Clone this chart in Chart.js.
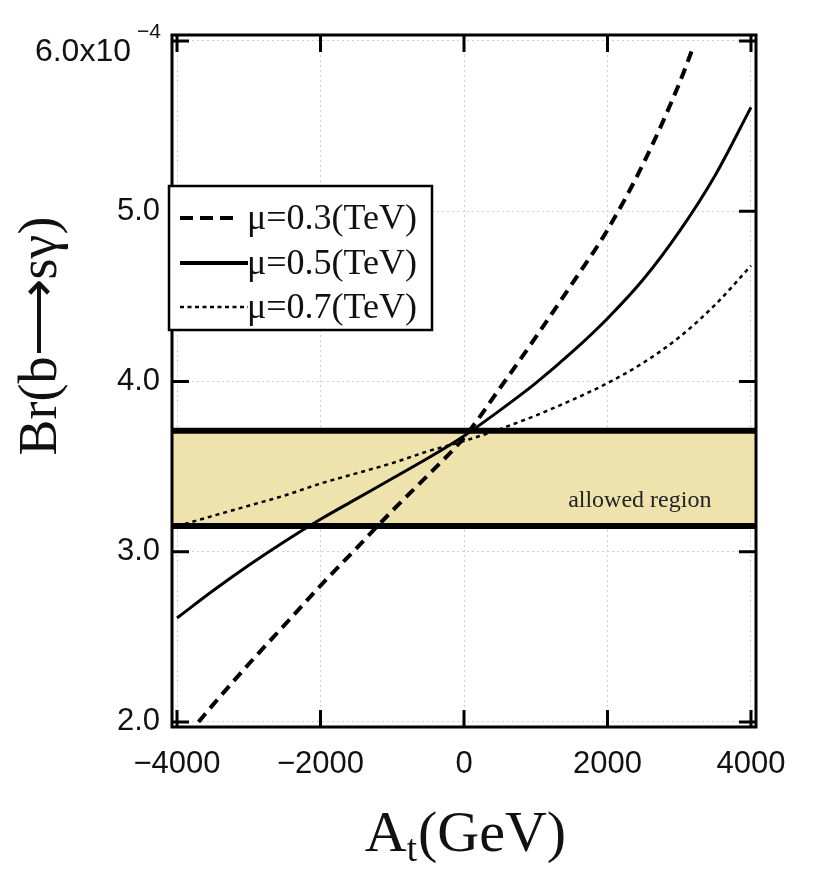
<!DOCTYPE html>
<html>
<head>
<meta charset="utf-8">
<script src="https://cdn.jsdelivr.net/npm/chart.js@4.4.1/dist/chart.umd.min.js"></script>
<style>
  html, body { margin: 0; padding: 0; background: #fff; }
  #wrap { width: 830px; height: 889px; }
</style>
</head>
<body>
<div id="wrap"><canvas id="brChart" width="830" height="889"></canvas></div>
<script>
// --- Data (Br in units of 1e-4) ---
const atValues = [-4000, -3500, -3000, -2500, -2000, -1500, -1000, -500, 0, 500, 1000, 1500, 2000, 2500, 3000, 3500, 4000];
const br05 = [2.61, 2.77, 2.92, 3.06, 3.19, 3.31, 3.43, 3.55, 3.68, 3.83, 3.99, 4.17, 4.37, 4.60, 4.88, 5.21, 5.61];
const br07 = [3.15, 3.21, 3.27, 3.33, 3.40, 3.46, 3.52, 3.59, 3.65, 3.72, 3.80, 3.89, 3.99, 4.11, 4.26, 4.45, 4.68];
const at03 = [-3700, -3500, -3000, -2500, -2000, -1500, -1000, -500, 0, 500, 1000, 1500, 2000, 2500, 3000, 3200];
const br03 = [2.00, 2.10, 2.34, 2.57, 2.80, 3.02, 3.24, 3.45, 3.67, 3.96, 4.26, 4.57, 4.89, 5.28, 5.75, 5.97];

const allowedLow = 3.15;
const allowedHigh = 3.71;

const xTicks = [-4000, -2000, 0, 2000, 4000];
const yTicks = [2.0, 3.0, 4.0, 5.0, 6.0];
const xRange = [-4070, 4070];
const yRange = [1.97, 6.035];

const seriesLabels = ['\u03bc=0.3(TeV)', '\u03bc=0.5(TeV)', '\u03bc=0.7(TeV)'];

const toXY = (xs, ys) => xs.map((x, i) => ({ x: x, y: ys[i] }));

// --- Frame, inward ticks, legend and titles ---
const decorPlugin = {
    id: 'decor',
    afterDatasetsDraw(chart) {
        const ctx = chart.ctx;
        const area = chart.chartArea;
        const xs = chart.scales.x;
        const ys = chart.scales.y;
        ctx.save();

        // frame
        ctx.strokeStyle = '#000';
        ctx.lineWidth = 3;
        ctx.strokeRect(area.left, area.top, area.right - area.left, area.bottom - area.top);

        // inward tick marks on all four sides
        const tl = 17;
        ctx.lineWidth = 3;
        ctx.beginPath();
        xTicks.forEach(v => {
            const px = xs.getPixelForValue(v);
            ctx.moveTo(px, area.bottom); ctx.lineTo(px, area.bottom - tl);
            ctx.moveTo(px, area.top); ctx.lineTo(px, area.top + tl);
        });
        yTicks.forEach(v => {
            const py = ys.getPixelForValue(v);
            ctx.moveTo(area.left, py); ctx.lineTo(area.left + tl, py);
            ctx.moveTo(area.right, py); ctx.lineTo(area.right - tl, py);
        });
        ctx.stroke();

        // top tick label with exponent
        ctx.fillStyle = '#111';
        ctx.textBaseline = 'middle';
        ctx.textAlign = 'right';
        ctx.font = '32px "Liberation Sans", Arial, sans-serif';
        const topY = ys.getPixelForValue(6.0) + 11;
        ctx.fillText('6.0x10', 131, topY);
        ctx.textAlign = 'left';
        ctx.font = '21px "Liberation Sans", Arial, sans-serif';
        ctx.fillText('\u22124', 137, topY - 20);

        // "allowed region" label
        ctx.fillStyle = '#222';
        ctx.textAlign = 'center';
        ctx.font = '24px "Liberation Serif", "Times New Roman", serif';
        ctx.fillText('allowed region', xs.getPixelForValue(2450), ys.getPixelForValue(3.30));

        // legend
        const box = { l: 169, t: 186, r: 432, b: 330 };
        ctx.fillStyle = '#fff';
        ctx.fillRect(box.l, box.t, box.r - box.l, box.b - box.t);
        ctx.strokeStyle = '#000';
        ctx.lineWidth = 2.5;
        ctx.strokeRect(box.l, box.t, box.r - box.l, box.b - box.t);
        const rows = [
            { y: 218, x2: 233, w: 4, dash: [13, 7] },
            { y: 263, x2: 248, w: 4, dash: [] },
            { y: 307, x2: 248, w: 2.5, dash: [4, 3.5] }
        ];
        ctx.font = '36px "Liberation Serif", "Times New Roman", serif';
        ctx.textAlign = 'left';
        ctx.textBaseline = 'middle';
        rows.forEach((r, i) => {
            ctx.beginPath();
            ctx.setLineDash(r.dash);
            ctx.lineWidth = r.w;
            ctx.moveTo(180, r.y); ctx.lineTo(r.x2, r.y);
            ctx.stroke();
            ctx.setLineDash([]);
            ctx.fillStyle = '#111';
            ctx.fillText(seriesLabels[i], 247, r.y + 2);
        });

        // y axis title
        ctx.save();
        ctx.translate(42, 336);
        ctx.rotate(-Math.PI / 2);
        ctx.textAlign = 'center';
        ctx.textBaseline = 'middle';
        ctx.font = '54px "Liberation Serif", "Times New Roman", serif';
        ctx.fillStyle = '#111';
        ctx.fillText('Br(b\u27f6s\u03b3)', 0, 0);
        ctx.restore();

        // x axis title with subscript
        const big = '58px "Liberation Serif", "Times New Roman", serif';
        const small = '37px "Liberation Serif", "Times New Roman", serif';
        ctx.font = big; const wA = ctx.measureText('A').width; const wRest = ctx.measureText('(GeV)').width;
        ctx.font = small; const wT = ctx.measureText('t').width;
        let x0 = 465 - (wA + wT + wRest) / 2;
        const base = 851;
        ctx.textAlign = 'left';
        ctx.textBaseline = 'alphabetic';
        ctx.fillStyle = '#111';
        ctx.font = big; ctx.fillText('A', x0, base);
        ctx.font = small; ctx.fillText('t', x0 + wA, base + 10);
        ctx.font = big; ctx.fillText('(GeV)', x0 + wA + wT + 1, base);

        ctx.restore();
    }
};

const lineCommon = { pointRadius: 0, borderColor: '#000', fill: false, cubicInterpolationMode: 'monotone', clip: 0 };

new Chart(document.getElementById('brChart').getContext('2d'), {
    type: 'line',
    data: {
        datasets: [
            Object.assign({}, lineCommon, { label: seriesLabels[0], data: toXY(at03, br03), borderWidth: 4, borderDash: [11, 7], order: 1 }),
            Object.assign({}, lineCommon, { label: seriesLabels[1], data: toXY(atValues, br05), borderWidth: 3, order: 1 }),
            Object.assign({}, lineCommon, { label: seriesLabels[2], data: toXY(atValues, br07), borderWidth: 2.5, borderDash: [4, 4], order: 1 }),
            { label: 'upper', data: toXY(xRange, [allowedHigh, allowedHigh]), borderColor: '#000', borderWidth: 6, pointRadius: 0,
              fill: '+1', backgroundColor: '#eee2ad', order: 3 },
            { label: 'lower', data: toXY(xRange, [allowedLow, allowedLow]), borderColor: '#000', borderWidth: 6, pointRadius: 0,
              fill: false, order: 2 }
        ]
    },
    options: {
        responsive: false,
        animation: false,
        layout: { padding: { top: 35, right: 74, left: 0, bottom: 0 } },
        plugins: { legend: { display: false }, tooltip: { enabled: false } },
        scales: {
            x: {
                type: 'linear',
                min: xRange[0], max: xRange[1],
                afterBuildTicks: axis => { axis.ticks = xTicks.map(v => ({ value: v })); },
                afterFit: s => { s.height = 162; },
                grid: { color: '#cfcfcf', lineWidth: 1, drawTicks: false },
                border: { display: false, dash: [2, 3] },
                ticks: {
                    padding: 19,
                    color: '#111',
                    font: { family: '"Liberation Sans", Arial, sans-serif', size: 31 },
                    callback: v => String(v).replace('-', '\u2212')
                }
            },
            y: {
                type: 'linear',
                min: yRange[0], max: yRange[1],
                afterBuildTicks: axis => { axis.ticks = yTicks.map(v => ({ value: v })); },
                afterFit: s => { s.width = 172; },
                grid: { color: '#cfcfcf', lineWidth: 1, drawTicks: false },
                border: { display: false, dash: [2, 3] },
                ticks: {
                    padding: 12,
                    color: '#111',
                    font: { family: '"Liberation Sans", Arial, sans-serif', size: 31 },
                    callback: v => (v === 6 ? '' : v.toFixed(1))
                }
            }
        }
    },
    plugins: [decorPlugin]
});
</script>
</body>
</html>
